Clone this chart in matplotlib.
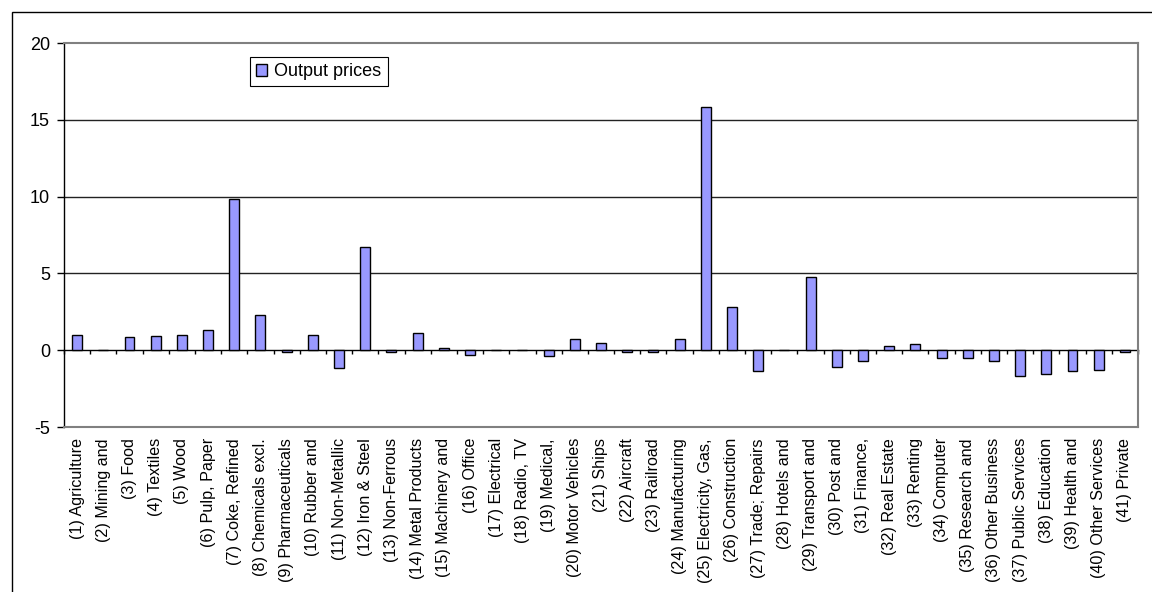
import numpy as np
import matplotlib
matplotlib.use('Agg')
import matplotlib.pyplot as plt
from matplotlib.patches import Rectangle

plt.rcParams['font.family'] = ['Liberation Sans', 'DejaVu Sans']

sectors = [
    '(1) Agriculture', '(2) Mining and', '(3) Food', '(4) Textiles', '(5) Wood',
    '(6) Pulp, Paper', '(7) Coke, Refined', '(8) Chemicals excl.', '(9) Pharmaceuticals',
    '(10) Rubber and', '(11) Non-Metallic', '(12) Iron & Steel', '(13) Non-Ferrous',
    '(14) Metal Products', '(15) Machinery and', '(16) Office', '(17) Electrical',
    '(18) Radio, TV', '(19) Medical,', '(20) Motor Vehicles', '(21) Ships', '(22) Aircraft',
    '(23) Railroad', '(24) Manufacturing', '(25) Electricity, Gas,', '(26) Construction',
    '(27) Trade; Repairs', '(28) Hotels and', '(29) Transport and', '(30) Post and',
    '(31) Finance,', '(32) Real Estate', '(33) Renting', '(34) Computer',
    '(35) Research and', '(36) Other Business', '(37) Public Services', '(38) Education',
    '(39) Health and', '(40) Other Services', '(41) Private',
]
output_prices = [
    1.02, 0.0, 0.83, 0.93, 1.02, 1.3, 9.83, 2.26, -0.1, 1.02,
    -1.15, 6.73, -0.1, 1.13, 0.17, -0.33, 0.0, 0.0, -0.41, 0.74,
    0.46, -0.1, -0.1, 0.74, 15.84, 2.82, -1.35, 0.0, 4.77, -1.08,
    -0.7, 0.26, 0.39, -0.5, -0.5, -0.7, -1.65, -1.52, -1.35, -1.26,
    -0.1,
]
y_ticks = [-5, 0, 5, 10, 15, 20]

fig = plt.figure(figsize=(11.52, 5.92), dpi=100)
ax = fig.add_axes([64 / 1152, 1 - 427 / 592, 1074 / 1152, 384 / 592])

x = np.arange(len(sectors))
ax.bar(x, output_prices, width=0.38, color='#9999FF', edgecolor='black',
       linewidth=1.0, label='Output prices', zorder=3)

ax.set_xlim(-0.5, len(sectors) - 0.5)
ax.set_ylim(-5, 20)
ax.set_yticks(y_ticks)
ax.set_yticklabels([str(v) for v in y_ticks], fontsize=13)
ax.tick_params(axis='y', direction='out', length=5, width=1, pad=5)

ax.set_xticks(x)
ax.set_xticklabels(sectors, rotation=90, fontsize=11.6, va='top', ha='center')
ax.tick_params(axis='x', length=0, pad=8)

for v in [5, 10, 15]:
    ax.axhline(v, color='#222222', linewidth=1.0, zorder=1)

for side in ['top', 'right', 'bottom']:
    ax.spines[side].set_color('#808080')
    ax.spines[side].set_linewidth(1.5)
ax.spines['left'].set_color('black')
ax.spines['left'].set_linewidth(1.0)

# zero line with category separators
zero_axis = ax.secondary_xaxis(5 / 25)
zero_axis.set_xticks(np.arange(len(sectors) + 1) - 0.5)
zero_axis.set_xticklabels([])
zero_axis.tick_params(direction='out', length=3, width=1, color='black')
zero_axis.spines['bottom'].set_color('black')
zero_axis.spines['bottom'].set_linewidth(1.0)

leg = ax.legend(loc='upper left', bbox_to_anchor=(0.173, 0.964), borderaxespad=0,
                fontsize=13, fancybox=False, framealpha=1, edgecolor='black',
                handlelength=0.6, handleheight=0.6, handletextpad=0.4,
                borderpad=0.35)
leg.get_frame().set_linewidth(0.8)

# outer chart border
fig.patches.append(Rectangle((12 / 1152, -0.1), 1.2, 1 - 12 / 592 + 0.1,
                             transform=fig.transFigure, fill=False,
                             edgecolor='black', linewidth=1.0))

fig.savefig('out.png', dpi=100)
